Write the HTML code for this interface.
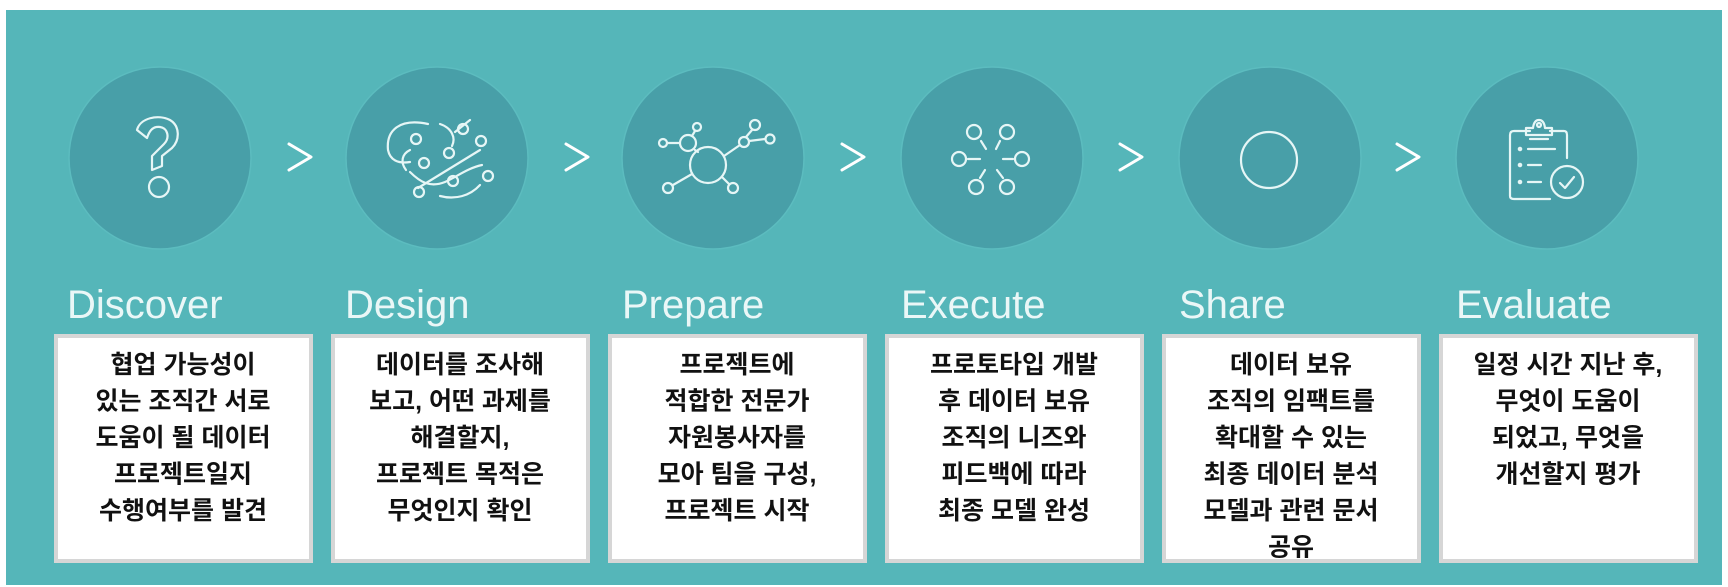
<!DOCTYPE html>
<html><head><meta charset="utf-8"><style>
html,body{margin:0;padding:0;background:#fff;width:1728px;height:587px;overflow:hidden}
svg{display:block}
.lbl{font-family:"Liberation Sans",sans-serif;font-size:40px;fill:#eaf7f7}
.t{font-family:"Liberation Sans","Noto Sans CJK KR",sans-serif;font-size:25px;font-weight:bold;fill:#111;text-anchor:middle}
.ic{fill:none;stroke:#e6f6f6;stroke-width:2.2;stroke-linecap:round;stroke-linejoin:round}
.ar{fill:none;stroke:#fff;stroke-width:3;stroke-linecap:round;stroke-linejoin:round}
</style></head><body>
<svg width="1728" height="587" viewBox="0 0 1728 587" xmlns="http://www.w3.org/2000/svg">
<rect x="6" y="10" width="1716" height="575" fill="#55b6b9"/>
<g fill="#489fa8" stroke="#5cbcbf" stroke-width="1.5">
<circle cx="160" cy="158" r="91"/><circle cx="437" cy="158" r="91"/><circle cx="713" cy="158" r="91"/>
<circle cx="992" cy="158" r="91"/><circle cx="1270" cy="158" r="91"/><circle cx="1547" cy="158" r="91"/>
</g>
<path class="ar" d="M289 144 L311 157 L289 170"/>
<path class="ar" d="M566 144 L588 157 L566 170"/>
<path class="ar" d="M842 144 L864 157 L842 170"/>
<path class="ar" d="M1120 144 L1142 157 L1120 170"/>
<path class="ar" d="M1397 144 L1419 157 L1397 170"/>
<g class="ic">
<path d="M137 130 C140 118 158 114 170 120 C180 126 180 140 172 148 L162 156 L162 166 L152 170 L152 156 L164 144 C170 138 168 128 160 127 C152 126 149 132 147 138 Z"/>
<circle cx="159" cy="187" r="10"/>
</g>
<g class="ic">
<path d="M428 124 C400 118 386 130 388 150 C390 160 398 164 410 162"/>
<path d="M440 124 C452 128 456 138 452 146"/>
<path d="M410 172 C420 182 430 188 445 182 C458 176 468 168 482 165"/>
<path d="M406 170 C400 162 402 154 410 150"/>
<path d="M418 188 L480 150"/><path d="M440 196 C455 200 470 196 480 185"/>
<circle cx="416" cy="139" r="5"/><circle cx="424" cy="163" r="5"/><circle cx="449" cy="153" r="5"/>
<circle cx="463" cy="129" r="5"/><circle cx="481" cy="141" r="5"/><circle cx="453" cy="181" r="5"/>
<circle cx="488" cy="176" r="5"/><circle cx="419" cy="192" r="5"/><path d="M455 132 L470 120"/>
</g>
<g class="ic">
<circle cx="708" cy="165" r="18"/>
<circle cx="688" cy="143" r="8"/><circle cx="663" cy="143" r="4"/><line x1="667" y1="143" x2="680" y2="143"/>
<circle cx="697" cy="127" r="4"/><line x1="695" y1="131" x2="692" y2="136"/><line x1="695" y1="150" x2="698" y2="152"/>
<circle cx="744" cy="142" r="5"/><line x1="724" y1="156" x2="740" y2="145"/>
<circle cx="755" cy="125" r="5"/><line x1="746" y1="137" x2="752" y2="130"/>
<circle cx="770" cy="139" r="4.5"/><line x1="749" y1="141" x2="765" y2="139"/>
<circle cx="668" cy="188" r="5"/><line x1="673" y1="185" x2="692" y2="174"/>
<circle cx="733" cy="188" r="5"/><line x1="722" y1="177" x2="729" y2="184"/>
</g>
<g class="ic">
<circle cx="974" cy="132" r="7"/><circle cx="1007" cy="132" r="7"/>
<circle cx="959" cy="159" r="7"/><circle cx="1022" cy="159" r="7"/>
<circle cx="976" cy="187" r="7"/><circle cx="1007" cy="187" r="7"/>
<line x1="981" y1="141" x2="986" y2="149"/><line x1="1000" y1="141" x2="996" y2="149"/>
<line x1="968" y1="159" x2="980" y2="159"/><line x1="1013" y1="159" x2="1003" y2="159"/>
<line x1="980" y1="178" x2="985" y2="170"/><line x1="1003" y1="178" x2="997" y2="170"/>
</g>
<circle class="ic" cx="1269" cy="160" r="28"/>
<g class="ic">
<path d="M1530 131 L1514 131 Q1510 131 1510 135 L1510 196 Q1510 199 1514 199 L1550 199"/>
<path d="M1550 131 L1564 131 Q1567 131 1567 135 L1567 158"/>
<path d="M1526 135 L1526 128 L1533 128 Q1534 120 1539 120 Q1544 120 1545 128 L1552 128 L1552 135 Z"/>
<circle cx="1539" cy="125" r="2"/><line x1="1530" y1="139" x2="1548" y2="139"/>
<circle cx="1520" cy="149" r="1.2"/><line x1="1528" y1="149" x2="1555" y2="149"/>
<circle cx="1520" cy="165" r="1.2"/><line x1="1528" y1="165" x2="1541" y2="165"/>
<circle cx="1520" cy="182" r="1.2"/><line x1="1528" y1="182" x2="1541" y2="182"/>
<circle cx="1567" cy="182" r="16"/><path d="M1560 183 L1565 188 L1574 177"/>
</g>
<text class="lbl" x="67" y="318">Discover</text>
<text class="lbl" x="345" y="318">Design</text>
<text class="lbl" x="622" y="318">Prepare</text>
<text class="lbl" x="901" y="318">Execute</text>
<text class="lbl" x="1179" y="318">Share</text>
<text class="lbl" x="1456" y="318">Evaluate</text>
<g fill="#fff" stroke="#d6d6d6" stroke-width="4">
<rect x="56" y="336" width="255" height="225"/><rect x="333" y="336" width="255" height="225"/>
<rect x="610" y="336" width="255" height="225"/><rect x="887" y="336" width="255" height="225"/>
<rect x="1164" y="336" width="255" height="225"/><rect x="1441" y="336" width="255" height="225"/>
</g>
<text class="t" y="373"><tspan x="183" >협업 가능성이</tspan><tspan x="183" dy="36.5">있는 조직간 서로</tspan><tspan x="183" dy="36.5">도움이 될 데이터</tspan><tspan x="183" dy="36.5">프로젝트일지</tspan><tspan x="183" dy="36.5">수행여부를 발견</tspan></text>
<text class="t" y="373"><tspan x="460">데이터를 조사해</tspan><tspan x="460" dy="36.5">보고, 어떤 과제를</tspan><tspan x="460" dy="36.5">해결할지,</tspan><tspan x="460" dy="36.5">프로젝트 목적은</tspan><tspan x="460" dy="36.5">무엇인지 확인</tspan></text>
<text class="t" y="373"><tspan x="737">프로젝트에</tspan><tspan x="737" dy="36.5">적합한 전문가</tspan><tspan x="737" dy="36.5">자원봉사자를</tspan><tspan x="737" dy="36.5">모아 팀을 구성,</tspan><tspan x="737" dy="36.5">프로젝트 시작</tspan></text>
<text class="t" y="373"><tspan x="1014">프로토타입 개발</tspan><tspan x="1014" dy="36.5">후 데이터 보유</tspan><tspan x="1014" dy="36.5">조직의 니즈와</tspan><tspan x="1014" dy="36.5">피드백에 따라</tspan><tspan x="1014" dy="36.5">최종 모델 완성</tspan></text>
<text class="t" y="373"><tspan x="1291">데이터 보유</tspan><tspan x="1291" dy="36.5">조직의 임팩트를</tspan><tspan x="1291" dy="36.5">확대할 수 있는</tspan><tspan x="1291" dy="36.5">최종 데이터 분석</tspan><tspan x="1291" dy="36.5">모델과 관련 문서</tspan><tspan x="1291" dy="36.5">공유</tspan></text>
<text class="t" y="373"><tspan x="1568">일정 시간 지난 후,</tspan><tspan x="1568" dy="36.5">무엇이 도움이</tspan><tspan x="1568" dy="36.5">되었고, 무엇을</tspan><tspan x="1568" dy="36.5">개선할지 평가</tspan></text>
</svg>
</body></html>
